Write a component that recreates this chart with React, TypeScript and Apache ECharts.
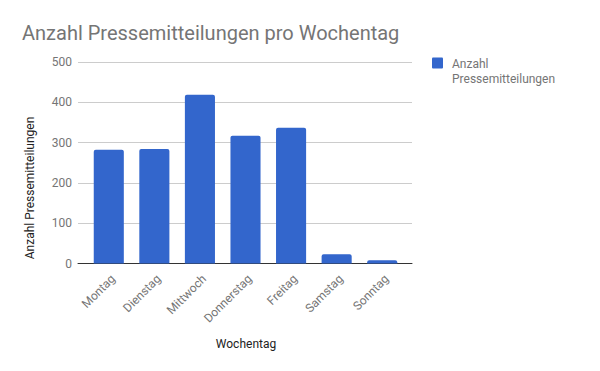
import React, { useEffect, useRef } from "react";
import * as echarts from "echarts";

const categories = ["Montag", "Dienstag", "Mittwoch", "Donnerstag", "Freitag", "Samstag", "Sonntag"];
const values = [282, 284, 419, 317, 337, 23, 8];
const seriesName = "Anzahl Pressemitteilungen";
const yTicks = { min: 0, max: 500, interval: 100 };

const FONT = "Roboto, 'Noto Sans', sans-serif";

export default function App() {
  const ref = useRef<HTMLDivElement>(null);
  useEffect(() => {
    if (!ref.current) return;
    const chart = echarts.init(ref.current, undefined, { renderer: "svg" });
    chart.setOption({
      animation: false,
      backgroundColor: "#ffffff",
      textStyle: { fontFamily: FONT },
      title: {
        text: "Anzahl Pressemitteilungen pro Wochentag",
        left: 17,
        top: 18,
        textStyle: { fontFamily: FONT, fontSize: 20, fontWeight: "normal", color: "#757575" },
      },
      grid: [
        { left: 78, right: 188, top: 62, bottom: 107.5, containLabel: false },
        { left: 86, right: 195, top: 62, bottom: 107.5, containLabel: false },
      ],
      xAxis: [
        {
          gridIndex: 0,
          type: "value",
          min: 0,
          max: 1,
          show: true,
          axisLine: { show: true, onZero: false, lineStyle: { color: "#333333", width: 1 } },
          axisTick: { show: false },
          axisLabel: { show: false },
          splitLine: { show: false },
        },
        {
          gridIndex: 1,
          type: "category",
          data: categories,
          axisLine: { show: false },
          axisTick: { show: false },
          axisLabel: {
            rotate: 45,
            interval: 0,
            margin: 9,
            verticalAlign: "top",
            fontSize: 12,
            color: "#757575",
            fontFamily: FONT,
          },
        },
      ],
      yAxis: [
        {
          gridIndex: 0,
          type: "value",
          min: yTicks.min,
          max: yTicks.max,
          interval: yTicks.interval,
          axisLine: { show: false },
          axisTick: { show: false },
          axisLabel: { fontSize: 12, color: "#757575", margin: 6, fontFamily: FONT },
          splitLine: { lineStyle: { color: "#cccccc", width: 1 } },
        },
        {
          gridIndex: 1,
          type: "value",
          min: yTicks.min,
          max: yTicks.max,
          interval: yTicks.interval,
          show: false,
          splitLine: { show: false },
        },
      ],
      series: [
        {
          name: seriesName,
          type: "bar",
          xAxisIndex: 1,
          yAxisIndex: 1,
          data: values,
          barCategoryGap: "34%",
          itemStyle: { color: "#3366cc", borderRadius: [2, 2, 0, 0] },
          z: 1,
        },
      ],
      graphic: [
        {
          type: "text",
          rotation: Math.PI / 2,
          x: 29.5,
          y: 188,
          style: {
            text: "Anzahl Pressemitteilungen",
            fontSize: 12,
            fontFamily: FONT,
            fill: "#222222",
            align: "center",
            verticalAlign: "middle",
          },
        },
        {
          type: "text",
          x: 246,
          y: 344,
          style: {
            text: "Wochentag",
            fontSize: 12,
            fontFamily: FONT,
            fill: "#222222",
            align: "center",
            verticalAlign: "middle",
          },
        },
        {
          type: "rect",
          shape: { x: 432, y: 57.5, width: 11, height: 11, r: 1 },
          style: { fill: "#3366cc" },
        },
        {
          type: "text",
          x: 452,
          y: 56,
          style: {
            text: "Anzahl\nPressemitteilungen",
            fontSize: 12,
            lineHeight: 15,
            fontFamily: FONT,
            fill: "#757575",
            align: "left",
            verticalAlign: "top",
          },
        },
      ],
    });
    return () => chart.dispose();
  }, []);
  return <div ref={ref} style={{ width: 600, height: 371, position: "absolute", left: 0, top: 0 }} />;
}
